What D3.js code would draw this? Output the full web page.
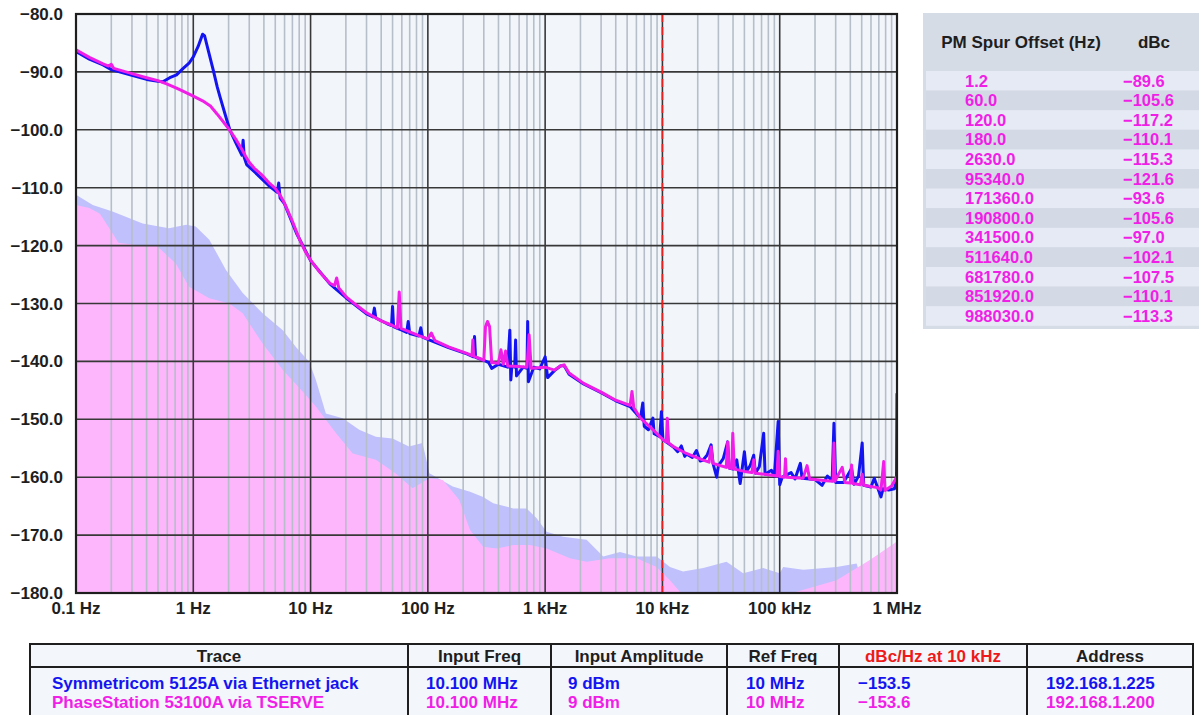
<!DOCTYPE html>
<html><head><meta charset="utf-8">
<script src="https://cdn.jsdelivr.net/npm/d3@7"></script>
<style>
body{margin:0;background:#fff;}
svg text{font-family:"Liberation Sans",Arial,sans-serif;font-weight:bold;}
</style></head><body>
<svg id="c" width="1201" height="715"></svg>
<script>
// ---------------- DATA ----------------
const yTicks = [-80,-90,-100,-110,-120,-130,-140,-150,-160,-170,-180];
const xTicks = [0.1,1,10,100,1e3,1e4,1e5,1e6];
const xTickLabels = ["0.1 Hz","1 Hz","10 Hz","100 Hz","1 kHz","10 kHz","100 kHz","1 MHz"];
const markerFreq = 10000;

// Symmetricom 5125A (blue) trace [Hz, dBc/Hz]
const symmetricomTrace = [
[0.1,-86.5],[0.13,-87.8],[0.17,-88.8],[0.2,-89.6],[0.3,-90.6],[0.4,-91.3],[0.5,-91.6],[0.55,-91.7],
[0.63,-91.0],[0.72,-90.5],[0.82,-89.4],[0.92,-88.5],[1.0,-87.4],[1.1,-85.6],[1.2,-83.5],[1.25,-83.8],
[1.35,-86.5],[1.48,-89.7],[1.6,-92.6],[1.69,-94.3],[1.93,-98.3],[2.05,-100.0],[2.3,-102.2],[2.6,-104.4],
[2.66,-101.8],[2.72,-104.8],[2.85,-106.0],[3.3,-107.2],[4.5,-109.8],[5.2,-110.8],[5.35,-109.2],[5.5,-111.8],
[6,-112.8],[7.6,-117.9],[10,-122.6],[14.6,-126.6],[20,-129.0],[30,-131.8],[34,-132.3],[35,-130.8],
[36,-132.5],[45,-133.5],[49,-133.8],[50,-130.5],[51,-134.0],[55,-134.3],[60,-134.6],[66,-135.0],
[68,-133.1],[70,-135.2],[84,-135.6],[87,-134.2],[90,-135.8],[100,-136.2],[150,-137.6],[215,-138.7],
[245,-139.2],[250,-135.7],[255,-139.3],[300,-139.8],[330,-140.2],[350,-141.2],[400,-140.5],[480,-141.0],
[500,-134.6],[510,-143.2],[520,-140.8],[550,-141.0],[560,-136.3],[570,-142.5],[650,-141.0],[700,-141.2],
[710,-133.1],[720,-143.5],[800,-141.0],[900,-141.3],[1000,-139.2],[1050,-142.8],[1200,-141.6],[1350,-140.8],
[1450,-140.7],[1600,-142.2],[2130,-143.9],[3000,-145.4],[4000,-146.8],[5300,-147.8],[6500,-149.8],[6800,-147.2],
[7000,-151.2],[7600,-151.8],[8300,-149.8],[8500,-152.5],[9500,-153.0],[9800,-148.7],[10100,-153.5],[12400,-154.8],
[13500,-155.6],[14500,-154.6],[15500,-156.4],[16000,-156.0],[18000,-156.6],[19500,-155.4],[21000,-157.2],[22000,-157.1],
[24000,-156.2],[26000,-154.4],[27000,-157.6],[29000,-160.0],[30000,-158.0],[33000,-156.8],[36000,-153.9],[37000,-158.4],
[40000,-158.6],[43000,-157.0],[46000,-161.1],[50000,-155.6],[52000,-159.0],[56000,-158.0],[60000,-156.2],[62000,-159.3],
[67000,-158.2],[73000,-152.4],[75000,-159.5],[85000,-158.8],[90000,-159.8],[95000,-153.0],[97000,-150.4],[100000,-161.3],
[105000,-160.0],[125000,-159.2],[135000,-160.3],[150000,-157.6],[155000,-160.2],[200000,-160.4],[230000,-161.4],[255000,-159.8],
[280000,-160.6],[290000,-150.7],[300000,-160.9],[350000,-160.9],[410000,-158.5],[430000,-161.2],[470000,-159.8],[505000,-154.1],
[520000,-161.4],[600000,-161.7],[640000,-160.2],[700000,-162.4],[730000,-163.4],[760000,-162.0],[850000,-162.2],[950000,-162.0],
[990000,-160.5],[1000000,-145.5]
];

// PhaseStation 53100A (pink) trace [Hz, dBc/Hz]
const phaseStationTrace = [
[0.1,-86.2],[0.13,-87.5],[0.17,-88.6],[0.19,-89.0],[0.2,-88.7],[0.21,-89.4],[0.3,-90.3],[0.4,-91.0],
[0.5,-91.5],[0.6,-92.1],[0.72,-92.8],[0.85,-93.5],[1.0,-94.2],[1.2,-95.0],[1.4,-95.9],[1.6,-97.3],
[1.8,-98.6],[2.0,-99.8],[2.3,-101.6],[2.6,-103.4],[2.8,-104.6],[3.0,-105.6],[3.3,-106.6],[3.8,-107.7],
[4.5,-109.3],[5.0,-110.1],[5.5,-111.3],[6.0,-112.7],[7.0,-115.8],[8.0,-118.8],[9.0,-121.0],[10,-122.5],
[12,-124.6],[14.6,-126.5],[16,-126.9],[16.7,-125.6],[17.4,-127.3],[20,-128.8],[25,-130.4],[30,-131.6],
[40,-133.0],[50,-133.8],[55,-134.2],[57,-128.0],[59,-134.3],[70,-134.9],[85,-135.6],[100,-136.1],
[107,-135.1],[115,-136.4],[150,-137.5],[215,-138.6],[238,-139.0],[242,-136.3],[246,-139.1],[300,-139.8],
[310,-134.0],[322,-133.1],[336,-134.0],[350,-140.2],[400,-140.3],[420,-138.0],[440,-140.5],[460,-138.2],[480,-140.8],
[600,-140.9],[700,-141.0],[730,-135.4],[760,-141.2],[1000,-141.0],[1200,-141.5],[1350,-140.8],[1450,-140.6],
[1600,-142.0],[2130,-143.8],[3000,-145.3],[4000,-146.7],[5300,-147.6],[5500,-145.2],[5700,-148.0],[6500,-149.8],
[8600,-152.1],[10200,-153.6],[10800,-153.9],[11000,-149.8],[11300,-154.1],[12400,-154.7],[16000,-155.9],[22000,-157.0],
[25000,-157.4],[26000,-154.8],[27000,-157.6],[30000,-157.9],[35000,-158.3],[36000,-153.9],[37000,-158.4],[39000,-158.5],
[39800,-152.4],[41000,-158.6],[50000,-159.0],[58000,-159.2],[60000,-157.0],[62000,-159.3],[75000,-159.5],[95000,-159.8],
[97000,-155.5],[100000,-159.9],[110000,-160.0],[112000,-156.8],[114000,-160.0],[158000,-160.2],[171000,-158.0],[180000,-160.3],
[250000,-160.6],[285000,-160.7],[290000,-154.1],[295000,-160.7],[341000,-158.3],[360000,-160.9],[400000,-161.0],[410000,-157.9],
[420000,-161.1],[488000,-161.3],[505000,-159.5],[520000,-161.4],[680000,-161.8],[730000,-162.2],[770000,-157.3],[790000,-162.3],
[900000,-161.5],[1000000,-159.9]
];

// Measurement floors [Hz, dBc/Hz]
const symmetricomFloor = [
[0.1,-111.2],[0.139,-113.0],[0.205,-114.1],[0.37,-116.2],[0.62,-117.0],[0.87,-116.4],[1.05,-116.7],[1.37,-119.0],
[1.9,-124.2],[2.64,-128.2],[3.9,-131.7],[5.8,-134.6],[7.5,-137.5],[9.75,-140.1],[11.1,-143.2],[13.5,-149.0],
[18.8,-149.8],[26,-151.8],[36,-153.0],[50,-153.3],[69,-154.7],[90,-154.1],[96,-156.5],[103,-159.3],
[163,-161.6],[229,-162.5],[296,-163.4],[361,-164.5],[535,-165.4],[695,-165.4],[847,-167.1],[1030,-169.4],
[1427,-170.3],[2258,-170.8],[3128,-173.7],[4345,-172.9],[6026,-173.7],[8933,-173.7],[11600,-175.5],[15000,-176.3],
[22300,-175.7],[35200,-174.6],[48800,-176.6],[72300,-175.7],[100000,-176.6],[107000,-175.5],[159000,-176.0],[305000,-175.5],
[453000,-174.9],[500000,-178.0],[1000000,-180.0]
];
const phaseStationFloor = [
[0.1,-113.0],[0.13,-113.5],[0.16,-114.5],[0.2,-117.5],[0.23,-119.5],[0.325,-119.9],[0.48,-119.9],[0.71,-123.1],
[0.92,-127.1],[1.37,-129.1],[2.03,-130.0],[2.64,-131.7],[3.9,-136.9],[5.8,-141.5],[8.57,-145.2],[11.1,-147.8],
[16.5,-152.4],[22.9,-155.9],[36,-157.0],[53,-159.3],[74,-161.9],[103,-160.2],[134,-160.5],[185,-163.9],
[229,-169.1],[296,-172.0],[386,-172.3],[535,-171.7],[741,-171.7],[1030,-172.3],[1626,-174.0],[2258,-174.6],
[3565,-174.0],[6026,-174.0],[8933,-175.5],[11600,-177.8],[14100,-179.8],[17400,-180.0],[111000,-180.0],[139000,-179.8],
[305000,-177.8],[587000,-174.3],[1000000,-171.1]
];

const spurOffsets = ["1.2","60.0","120.0","180.0","2630.0","95340.0","171360.0","190800.0","341500.0","511640.0","681780.0","851920.0","988030.0"];
const spurDbc = [-89.6,-105.6,-117.2,-110.1,-115.3,-121.6,-93.6,-105.6,-97.0,-102.1,-107.5,-110.1,-113.3];

const tableHeaders = ["Trace","Input Freq","Input Amplitude","Ref Freq","dBc/Hz at 10 kHz","Address"];
const traceNames = ["Symmetricom 5125A via Ethernet jack","PhaseStation 53100A via TSERVE"];
const inputFreqs = ["10.100 MHz","10.100 MHz"];
const inputAmps = ["9 dBm","9 dBm"];
const refFreqs = ["10 MHz","10 MHz"];
const dbcAt10k = [-153.5,-153.6];
const addresses = ["192.168.1.225","192.168.1.200"];

// ---------------- DRAW ----------------
const BLUE = "#1414f0", PINK = "#f01ee6";
const fmt = v => (v < 0 ? "\u2212" : "") + Math.abs(v).toFixed(1);
const svg = d3.select("#c");
const L = 76, R = 897, T = 14, B = 593;
const x = d3.scaleLog().domain([0.1, 1e6]).range([L, R]);
const y = d3.scaleLinear().domain([-180, -80]).range([B, T]);

svg.append("defs").append("clipPath").attr("id","clip")
  .append("rect").attr("x",L).attr("y",T).attr("width",R-L+1).attr("height",B-T);

svg.append("rect").attr("x",L).attr("y",T).attr("width",R-L).attr("height",B-T).attr("fill","#f2f6fb");

const g = svg.append("g").attr("clip-path","url(#clip)");
const area = d3.area().x(d=>x(d[0])).y0(y(-180)).y1(d=>y(d[1]));
g.append("path").datum(symmetricomFloor).attr("d",area).attr("fill","#c0c0fc");
g.append("path").datum(phaseStationFloor).attr("d",area).attr("fill","#fdb6fb");

// minor vertical grid
const minor = x.ticks().filter(t => !xTicks.some(m => Math.abs(m - t) / m < 1e-6));
g.selectAll(".minor").data(minor).enter().append("line")
  .attr("x1",d=>x(d)).attr("x2",d=>x(d)).attr("y1",T).attr("y2",B)
  .attr("stroke","#b5bec9").attr("stroke-width",1.6);
// major grid
g.selectAll(".vmaj").data(xTicks).enter().append("line")
  .attr("x1",d=>x(d)).attr("x2",d=>x(d)).attr("y1",T).attr("y2",B)
  .attr("stroke","#383838").attr("stroke-width",1.6);
g.selectAll(".hmaj").data(yTicks).enter().append("line")
  .attr("x1",L).attr("x2",R).attr("y1",d=>y(d)).attr("y2",d=>y(d))
  .attr("stroke","#383838").attr("stroke-width",1.6);

// marker at 10 kHz
g.append("line").attr("x1",x(markerFreq)).attr("x2",x(markerFreq)).attr("y1",T).attr("y2",B)
  .attr("stroke","#e8201e").attr("stroke-width",1.6).attr("stroke-dasharray","8,5");

const line = d3.line().x(d=>x(d[0])).y(d=>y(d[1]));
g.append("path").datum(symmetricomTrace).attr("d",line).attr("fill","none")
  .attr("stroke",BLUE).attr("stroke-width",3).attr("stroke-linejoin","round");
g.append("path").datum(phaseStationTrace).attr("d",line).attr("fill","none")
  .attr("stroke",PINK).attr("stroke-width",3).attr("stroke-linejoin","round");

svg.append("rect").attr("x",L).attr("y",T).attr("width",R-L).attr("height",B-T)
  .attr("fill","none").attr("stroke","#1e1e1e").attr("stroke-width",2.2);

// axis labels
svg.selectAll(".yl").data(yTicks).enter().append("text")
  .attr("x",63).attr("y",d=>y(d)+6).attr("text-anchor","end")
  .attr("font-size",17).attr("fill","#1e1e1e").text(fmt);
svg.selectAll(".xl").data(xTicks).enter().append("text")
  .attr("x",d=>x(d)).attr("y",614).attr("text-anchor","middle")
  .attr("font-size",17).attr("fill","#1e1e1e").text((d,i)=>xTickLabels[i]);

// spur table
const sx = 923, sy = 13, sw = 276, rowTop = 71, rowH = 19.6;
svg.append("rect").attr("x",sx).attr("y",sy).attr("width",sw).attr("height",316).attr("fill","#d6dce6");
svg.append("text").attr("x",1021).attr("y",48).attr("text-anchor","middle").attr("font-size",17)
  .attr("fill","#1e1e1e").text("PM Spur Offset (Hz)");
svg.append("text").attr("x",1154).attr("y",48).attr("text-anchor","middle").attr("font-size",17)
  .attr("fill","#1e1e1e").text("dBc");
spurOffsets.forEach((s,i)=>{
  svg.append("rect").attr("x",sx+3).attr("y",rowTop+i*rowH).attr("width",sw-3).attr("height",rowH)
    .attr("fill", i%2===0 ? "#e5eaf4" : "#d4dae5");
  svg.append("text").attr("x",965).attr("y",rowTop+i*rowH+15.5).attr("font-size",16.5).attr("fill",PINK).text(s);
  svg.append("text").attr("x",1123).attr("y",rowTop+i*rowH+15.5).attr("font-size",16.5).attr("fill",PINK).text(fmt(spurDbc[i]));
});

// bottom table
const cols = [30,408,551,727,839,1027,1193];
const tTop = 644, tHead = 667;
svg.append("rect").attr("x",cols[0]).attr("y",tTop).attr("width",cols[6]-cols[0]).attr("height",80)
  .attr("fill","#f3f6fb").attr("stroke","#1e1e1e").attr("stroke-width",2);
svg.append("line").attr("x1",cols[0]).attr("x2",cols[6]).attr("y1",tHead).attr("y2",tHead)
  .attr("stroke","#1e1e1e").attr("stroke-width",2);
cols.slice(1,6).forEach(c=>svg.append("line").attr("x1",c).attr("x2",c).attr("y1",tTop).attr("y2",715)
  .attr("stroke","#1e1e1e").attr("stroke-width",2));
tableHeaders.forEach((h,i)=>{
  svg.append("text").attr("x",(cols[i]+cols[i+1])/2).attr("y",662).attr("text-anchor","middle")
    .attr("font-size",17).attr("fill", i===4 ? "#ee1a1a" : "#1e1e1e").text(h);
});
const rows = traceNames.map((n,i)=>[n,inputFreqs[i],inputAmps[i],refFreqs[i],fmt(dbcAt10k[i]),addresses[i]]);
const pad = [22,18,17,19,19,19];
rows.forEach((r,ri)=>{
  r.forEach((v,ci)=>{
    svg.append("text").attr("x",cols[ci]+pad[ci]).attr("y",689+ri*19).attr("font-size",17)
      .attr("fill", ri===0 ? BLUE : PINK).text(v);
  });
});
</script></body></html>
